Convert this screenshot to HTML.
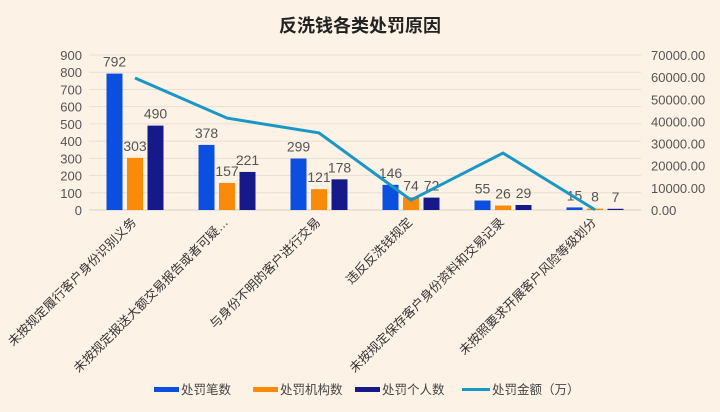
<!DOCTYPE html>
<html><head><meta charset="utf-8"><style>
body{margin:0;background:#fcf2e6;}
svg{display:block;font-family:"Liberation Sans","Noto Sans CJK SC",sans-serif;}
</style></head><body>
<svg id="chart" width="720" height="412">
<rect width="720" height="412" fill="#fcf2e6"/>
<text x="360" y="32" text-anchor="middle" font-size="18" font-weight="bold" fill="#222">反洗钱各类处罚原因</text>
<g id="grid"></g><g id="bars"></g><g id="line"></g><g id="axes"></g><g id="legend"></g>
</svg>
<script>
const categories=["未按规定履行客户身份识别义务","未按规定报送大额交易报告或者可疑…","与身份不明的客户进行交易","违反反洗钱规定","未按规定保存客户身份资料和交易记录","未按照要求开展客户风险等级划分"];
const countValues=[792,378,299,146,55,15];
const orgValues=[303,157,121,74,26,8];
const personValues=[490,221,178,72,29,7];
const amountValues=[59600,41500,34800,4500,25700,100];
const leftTicks=[0,100,200,300,400,500,600,700,800,900];
const rightTicks=[0,10000,20000,30000,40000,50000,60000,70000];
const seriesNames=["处罚笔数","处罚机构数","处罚个人数","处罚金额（万）"];
const colors=["#0a4fe0","#f98a0a","#15198a","#1a97c4"];
const NS="http://www.w3.org/2000/svg";
const X0=89,X1=641,Y0=210,Y1=55;
const band=(X1-X0)/categories.length;
const yL=v=>Y0-(v/900)*(Y0-Y1);
const yR=v=>Y0-(v/70000)*(Y0-Y1);
const xC=i=>X0+band*(i+0.5);
function mk(tag,attrs,parent,txt){const e=document.createElementNS(NS,tag);for(const k in attrs)e.setAttribute(k,attrs[k]);if(txt!==undefined)e.textContent=txt;document.getElementById(parent).appendChild(e);return e;}
leftTicks.forEach(t=>{
 const l=mk('line',{x1:X0,x2:X1,y1:yL(t),y2:yL(t),stroke:t===0?'#d8d0c4':'#e8e0d4','stroke-width':1},'grid');
 
 
 const tx=mk('text',{x:82,y:yL(t)+5,'text-anchor':'end','font-size':13,fill:'#555'},'axes',String(t));
 
 
});
rightTicks.forEach(t=>{
 const tx=mk('text',{x:651,y:yR(t)+5,'font-size':13,fill:'#555'},'axes',t.toFixed(2));
 
 
});
const series=[countValues,orgValues,personValues];
const bw=16,gap=4.5;
categories.forEach((c,i)=>{
 series.forEach((s,k)=>{
  const x=xC(i)-bw*1.5-gap+k*(bw+gap);
  const r=mk('rect',{x:x,y:yL(s[i]),width:bw,height:Y0-yL(s[i]),fill:colors[k]},'bars');
  
  
  const t=mk('text',{x:x+bw/2,y:yL(s[i])-7,'text-anchor':'middle','font-size':14,fill:'#555'},'bars',String(s[i]));
  
  
 });
 const cx=xC(i)+2,cy=223;
 const lab=mk('text',{x:cx,y:cy,'text-anchor':'end','font-size':12.5,fill:'#333',transform:`rotate(-45 ${cx} ${cy})`},'axes',c);
 
 
});
const pts=amountValues.map((v,i)=>xC(i)+','+yR(v)).join(' ');
const pl=mk('polyline',{points:pts,fill:'none',stroke:colors[3],'stroke-width':3,'stroke-linejoin':'miter'},'line');


const lx=[154,253,355,462];
seriesNames.forEach((n,k)=>{
 const g=mk('g',{},'legend');
 
 
 const sw=k<3?mk('rect',{x:lx[k],y:387,width:25,height:5,fill:colors[k]},'legend'):mk('rect',{x:lx[k],y:388,width:28,height:3,fill:colors[k]},'legend');
 
 
 g.appendChild(sw);
 const t=mk('text',{x:lx[k]+(k<3?27:30),y:394,'font-size':12.5,fill:'#444'},'legend',n);
 
 
 g.appendChild(t);
});
</script>
</body></html>
